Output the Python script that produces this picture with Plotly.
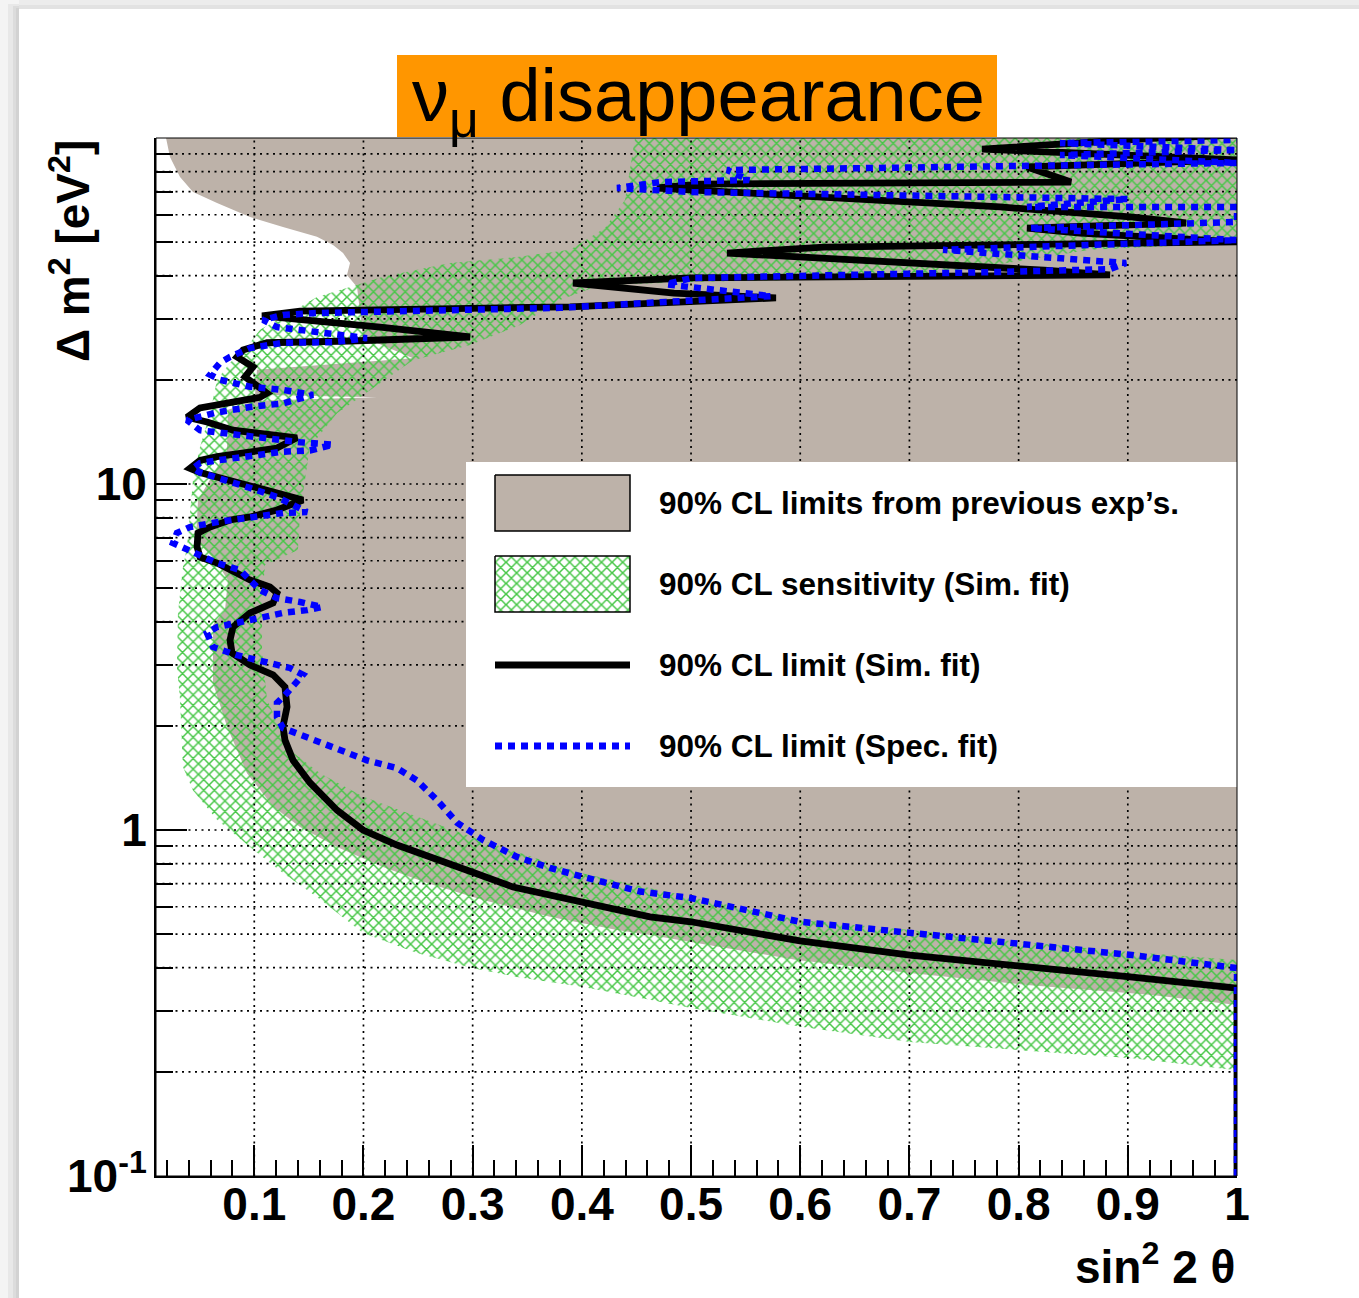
import plotly.graph_objects as go

# ---------------- data ----------------
# 90% CL region excluded by previous experiments (closed contour, sin^2 2theta vs dm^2)
prev_x = [0.0192, 0.0228, 0.0320, 0.0439, 0.0659, 0.0961, 0.1263, 0.1574, 0.1721, 0.1813,
          0.1877, 0.1849, 0.1941, 0.1996, 0.2454, 0.1025, 0.1007, 0.2124, 0.1007, 0.0759,
          0.0750, 0.0595, 0.0485, 0.0466, 0.0640, 0.0759, 0.0732, 0.0622, 0.0622, 0.0750,
          0.0933, 0.1172, 0.1419, 0.1758, 0.2179, 0.2582, 0.3095, 0.3708, 0.4322, 0.4624,
          0.5970, 0.7005, 0.8104, 0.9203, 1.0, 1.0]
prev_y = [100, 88.1, 77.1, 69.8, 64.9, 59.1, 55.3, 51.8, 49.1, 46.5,
          43.5, 40.2, 37.1, 26.6, 23.1, 21.4, 18.1, 17.8, 17.4, 16.4,
          12.5, 10.3, 8.99, 6.89, 6.03, 5.28, 4.32, 3.91, 2.66, 1.99,
          1.46, 1.17, 1.02, 0.893, 0.782, 0.703, 0.628, 0.561, 0.514, 0.497,
          0.421, 0.386, 0.356, 0.334, 0.312, 100]

# 90% CL sensitivity band of the simultaneous fit (closed contour)
sens_x = [1.0, 0.9039, 0.8013, 0.7005, 0.6007, 0.4999, 0.4624, 0.4011, 0.3406, 0.2994,
          0.2490, 0.1996, 0.1574, 0.1263, 0.0961, 0.0659, 0.0439, 0.0347, 0.0320, 0.0292,
          0.0301, 0.0347, 0.0384, 0.0411, 0.0439, 0.0503, 0.0595, 0.0659, 0.0778, 0.0933,
          0.1052, 0.1263, 0.1574, 0.1877, 0.2179, 0.2793, 0.3406, 0.3892, 0.4212, 0.4395,
          0.4487, 1.0, 1.0, 0.8654, 0.7372, 0.5998, 0.5082, 0.4166, 0.3800, 0.3434,
          0.2976, 0.2454, 0.2124, 0.1758, 0.1510, 0.1465, 0.1419, 0.1400, 0.1098, 0.1071,
          0.1071, 0.1117, 0.1327, 0.1602, 0.1996, 0.2994, 0.3992, 0.4999, 0.5998, 0.7005,
          0.8013, 0.9020, 1.0]
sens_y = [0.202, 0.219, 0.231, 0.244, 0.270, 0.306, 0.323, 0.352, 0.376, 0.399,
          0.441, 0.504, 0.640, 0.751, 0.893, 1.07, 1.30, 1.52, 2.38, 2.96,
          4.24, 5.76, 6.58, 8.25, 10.3, 12.8, 16.0, 20.0, 22.4, 24.9,
          27.9, 30.4, 34.7, 37.1, 39.7, 43.5, 45.3, 47.5, 54.9, 66.2,
          100, 100, 49.7, 47.5, 41.0, 38.9, 38.4, 37.6, 34.0, 28.8,
          25.2, 22.8, 19.3, 16.0, 12.8, 10.3, 8.25, 6.45, 5.83, 4.62,
          3.31, 2.38, 1.70, 1.46, 1.25, 0.954, 0.751, 0.640, 0.549, 0.514,
          0.475, 0.444, 0.421]

# 90% CL limit, simultaneous fit: (sin^2 2theta, dm^2)
sim_limit = [
    (1.0, 0.1), (1.0, 0.349), (0.902, 0.376), (0.7994, 0.407), (0.7005, 0.435),
    (0.5998, 0.478), (0.4999, 0.543), (0.4624, 0.561), (0.4011, 0.615), (0.3370, 0.684),
    (0.2994, 0.756), (0.2637, 0.830), (0.2307, 0.905), (0.1996, 1.0), (0.1758, 1.14),
    (0.1510, 1.37), (0.1355, 1.59), (0.1281, 1.82), (0.1263, 1.99), (0.1300, 2.27),
    (0.1281, 2.59), (0.1172, 2.81), (0.0961, 3.00), (0.0796, 3.25), (0.0778, 3.54),
    (0.0805, 3.86), (0.0961, 4.24), (0.1172, 4.53), (0.1208, 4.84), (0.1144, 5.04),
    (0.0961, 5.28), (0.0659, 5.91), (0.0503, 6.15), (0.0476, 6.58), (0.0485, 7.22),
    (0.0595, 7.51), (0.0778, 7.87), (0.0961, 8.03), (0.1208, 8.41), (0.1446, 8.99),
    (0.1208, 9.42), (0.0961, 9.8), (0.0659, 10.5), (0.0503, 10.8), (0.0411, 11.1),
    (0.0503, 11.7), (0.0659, 12.0), (0.0961, 12.4), (0.1208, 12.7), (0.1391, 13.6),
    (0.1117, 13.9), (0.0805, 14.3), (0.0567, 15.1), (0.0384, 15.6), (0.0503, 16.6),
    (0.0805, 17.3), (0.1052, 17.8), (0.1117, 18.3), (0.1025, 19.3), (0.0915, 20.4),
    (0.0988, 21.8), (0.0842, 23.3), (0.0897, 24.4), (0.1117, 25.6), (0.1877, 25.9),
    (0.2976, 26.6), (0.2152, 28.4), (0.1419, 29.8), (0.1071, 30.6), (0.1419, 31.6),
    (0.2335, 32.1), (0.3250, 32.3), (0.3892, 32.5), (0.4844, 33.6), (0.5778, 34.5),
    (0.4844, 35.6), (0.3919, 38.1), (0.5009, 39.4), (0.6621, 39.7), (0.7830, 39.7),
    (0.8837, 40.2), (0.8233, 41.5), (0.7024, 43.5), (0.5815, 45.3), (0.5330, 46.5),
    (0.6218, 48.4), (0.7427, 49.1), (0.8636, 49.7), (1.0, 50.1), (0.8562, 53.1),
    (0.8077, 54.9), (0.9533, 56.8), (0.9048, 59.1), (0.7830, 63.2), (0.6218, 67.5),
    (0.4688, 71.7), (0.5082, 73.6), (0.7830, 74.1), (0.848, 74.6), (0.8077, 82.5),
    (1.0, 86.4), (0.7665, 92.9), (0.9267, 100), (1.0, 102),
]

# 90% CL limit, spectral fit: (sin^2 2theta, dm^2)
spec_limit = [
    (1.0, 0.1), (1.0, 0.399), (0.9039, 0.435), (0.8013, 0.468), (0.7005, 0.504),
    (0.5998, 0.543), (0.4999, 0.636), (0.4533, 0.664), (0.4011, 0.732), (0.3708, 0.777),
    (0.3406, 0.836), (0.3095, 0.936), (0.2857, 1.05), (0.2674, 1.22), (0.2490, 1.39),
    (0.2307, 1.51), (0.2032, 1.59), (0.1694, 1.74), (0.1446, 1.86), (0.1263, 1.97),
    (0.1208, 2.12), (0.1208, 2.33), (0.1300, 2.49), (0.1391, 2.66), (0.1446, 2.81),
    (0.1327, 2.94), (0.1080, 3.06), (0.0842, 3.20), (0.0622, 3.38), (0.0567, 3.71),
    (0.0659, 3.86), (0.0961, 4.05), (0.1263, 4.24), (0.1483, 4.32), (0.1620, 4.41),
    (0.1419, 4.56), (0.1208, 4.68), (0.1052, 4.94), (0.0869, 5.64), (0.0659, 5.91),
    (0.0439, 6.32), (0.0256, 6.75), (0.0292, 7.22), (0.0411, 7.51), (0.0659, 7.76),
    (0.0961, 7.98), (0.1263, 8.25), (0.1483, 8.30), (0.1208, 9.17), (0.0961, 9.74),
    (0.0659, 10.5), (0.0503, 10.8), (0.0439, 11.1), (0.0503, 11.5), (0.0659, 11.7),
    (0.0961, 12.1), (0.1263, 12.4), (0.1510, 12.5), (0.1721, 13.0), (0.1419, 13.2),
    (0.1117, 13.6), (0.0805, 13.9), (0.0503, 14.3), (0.0384, 15.3), (0.0659, 16.1),
    (0.0961, 16.7), (0.1263, 17.1), (0.1538, 18.1), (0.1263, 18.7), (0.0961, 19.1),
    (0.0686, 20.0), (0.0595, 20.7), (0.0686, 22.4), (0.0778, 23.3), (0.0961, 24.7),
    (0.1263, 25.6), (0.1721, 25.7), (0.2032, 26.4), (0.1694, 27.3), (0.1446, 27.9),
    (0.1208, 28.4), (0.1080, 29.8), (0.1263, 30.8), (0.1574, 31.2), (0.2335, 31.6),
    (0.3250, 31.8), (0.3800, 32.3), (0.4771, 33.6), (0.5732, 34.9), (0.4771, 37.8),
    (0.5009, 39.4), (0.7830, 41.0), (0.8837, 41.8), (0.8984, 43.5), (0.7308, 47.5),
    (1.0, 50.7), (0.8104, 54.9), (1.0, 57.2), (1.0, 63.2), (0.8077, 63.2),
    (0.9002, 66.6), (0.5009, 69.8), (0.4322, 71.7), (0.4716, 74.6), (0.5531, 75.6),
    (0.5330, 80.8), (0.6914, 81.9), (1.0, 84.7), (0.8379, 89.3), (1.0, 92.3),
    (0.8379, 96.7), (1.0, 98.7),
]

# axis ticks
x_major = [0.1, 0.2, 0.3, 0.4, 0.5, 0.6, 0.7, 0.8, 0.9, 1.0]
x_labels = ["0.1", "0.2", "0.3", "0.4", "0.5", "0.6", "0.7", "0.8", "0.9", "1"]
x_minor = [round(0.02 * i, 2) for i in range(1, 50) if i % 5]
y_major = [0.1, 1, 10]
y_labels = ["10<sup>-1</sup>", "1", "10"]
y_minor = [m * 10 ** e for e in (-1, 0, 1) for m in range(2, 10)]

legend_labels = [
    "90% CL limits from previous exp\u2019s.",
    "90% CL sensitivity (Sim. fit)",
    "90% CL limit (Sim. fit)",
    "90% CL limit (Spec. fit)",
]

# ---------------- styling ----------------
W, H = 1359, 1298
ML, MR, MT, MB = 156, 122, 138, 122
FONT = "Liberation Sans, Arial, Helvetica, sans-serif"
GREY = "#bdb2a9"
GREEN = "#46c646"
BLUE = "#0000ff"
ORANGE = "#ff9600"
HATCH = dict(shape="x", fgcolor=GREEN, fgopacity=1, bgcolor="rgba(0,0,0,0)",
             size=7.5, solidity=0.36)


def px(xp):
    """page pixel column -> paper fraction"""
    return (xp - ML) / (W - ML - MR)


def py(yp):
    """page pixel row -> paper fraction"""
    return (H - MB - yp) / (H - MT - MB)


fig = go.Figure()

# previous experiments
fig.add_trace(go.Scatter(x=prev_x, y=prev_y, mode="lines", fill="toself",
                         fillcolor=GREY, line=dict(width=0), hoverinfo="skip",
                         showlegend=False))
# sensitivity band (cross hatched)
fig.add_trace(go.Scatter(x=sens_x, y=sens_y, mode="lines", fill="toself",
                         fillcolor="rgba(0,0,0,0)", line=dict(width=0),
                         fillpattern=HATCH, hoverinfo="skip", showlegend=False))

# dotted grid drawn on top of the filled areas
gx, gy = [], []
for v in x_major[:-1]:
    gx += [v, v, None]
    gy += [0.1, 100, None]
for v in sorted(y_minor + y_major[1:]):
    gx += [0.01, 1.0, None]
    gy += [v, v, None]
fig.add_trace(go.Scatter(x=gx, y=gy, mode="lines",
                         line=dict(color="black", width=1.7, dash="2px,4.5px"),
                         hoverinfo="skip", showlegend=False))

# limit curves
fig.add_trace(go.Scatter(x=[p[0] for p in sim_limit], y=[p[1] for p in sim_limit],
                         mode="lines", line=dict(color="black", width=6.8),
                         hoverinfo="skip", showlegend=False))
fig.add_trace(go.Scatter(x=[p[0] for p in spec_limit], y=[p[1] for p in spec_limit],
                         mode="lines", line=dict(color=BLUE, width=6.5, dash="7px,6px"),
                         hoverinfo="skip", showlegend=False))

# ---------------- legend box on an overlay in paper units ----------------
LX0, LX1, LY0, LY1 = 466, 1237, 462, 787
SX0, SX1 = 495, 630


def box(x0, y0, x1, y1):
    return ([px(x0), px(x1), px(x1), px(x0), px(x0)],
            [py(y0), py(y0), py(y1), py(y1), py(y0)])


bx, by = box(LX0, LY0, LX1, LY1)
fig.add_trace(go.Scatter(x=bx, y=by, xaxis="x2", yaxis="y2", mode="lines",
                         fill="toself", fillcolor="white", line=dict(width=0),
                         hoverinfo="skip", showlegend=False))
bx, by = box(SX0, 475, SX1, 531)
fig.add_trace(go.Scatter(x=bx, y=by, xaxis="x2", yaxis="y2", mode="lines",
                         fill="toself", fillcolor=GREY,
                         line=dict(color="black", width=1.5),
                         hoverinfo="skip", showlegend=False))
bx, by = box(SX0, 556, SX1, 612)
fig.add_trace(go.Scatter(x=bx, y=by, xaxis="x2", yaxis="y2", mode="lines",
                         fill="toself", fillcolor="rgba(0,0,0,0)", fillpattern=HATCH,
                         line=dict(color="black", width=1.5),
                         hoverinfo="skip", showlegend=False))
fig.add_trace(go.Scatter(x=[px(SX0), px(SX1)], y=[py(665), py(665)],
                         xaxis="x2", yaxis="y2", mode="lines",
                         line=dict(color="black", width=7),
                         hoverinfo="skip", showlegend=False))
fig.add_trace(go.Scatter(x=[px(SX0), px(SX1)], y=[py(746), py(746)],
                         xaxis="x2", yaxis="y2", mode="lines",
                         line=dict(color=BLUE, width=7, dash="7px,6px"),
                         hoverinfo="skip", showlegend=False))

annotations = []
for label, yc in zip(legend_labels, [503, 584, 665, 746]):
    annotations.append(dict(text=label, x=px(657), y=py(yc), xref="paper", yref="paper",
                            xanchor="left", yanchor="middle", showarrow=False,
                            font=dict(family=FONT, size=31.5, color="black", weight="bold")))

# title
annotations.append(dict(text="\u03bd<sub>\u03bc</sub> disappearance",
                        x=px(698), y=py(101), xref="paper", yref="paper",
                        xanchor="center", yanchor="middle", showarrow=False,
                        font=dict(family=FONT, size=74, color="black")))
# axis titles
annotations.append(dict(text="sin<sup>2</sup> 2 \u03b8", x=px(1237), y=py(1264),
                        xref="paper", yref="paper", xanchor="right", yanchor="middle",
                        showarrow=False,
                        font=dict(family=FONT, size=46, color="black", weight="bold")))
annotations.append(dict(text="\u0394 m<sup>2</sup> [eV<sup>2</sup>]", x=px(70), y=py(138),
                        xref="paper", yref="paper", xanchor="center", yanchor="top",
                        textangle=-90, showarrow=False,
                        font=dict(family=FONT, size=46, color="black", weight="bold")))

shapes = [
    # page shadow along the top and left edges
    dict(type="rect", xref="paper", yref="paper", x0=px(0), x1=px(W), y0=py(9), y1=py(0),
         fillcolor="#ececec", line=dict(width=0), layer="below"),
    dict(type="rect", xref="paper", yref="paper", x0=px(19), x1=px(W), y0=py(9), y1=py(5),
         fillcolor="#e2e2e2", line=dict(width=0), layer="below"),
    dict(type="rect", xref="paper", yref="paper", x0=px(0), x1=px(19), y0=py(H), y1=py(0),
         fillcolor="#f4f4f4", line=dict(width=0), layer="below"),
    dict(type="rect", xref="paper", yref="paper", x0=px(8), x1=px(19), y0=py(H), y1=py(4),
         fillcolor="#e8e8e8", line=dict(width=0), layer="below"),
    dict(type="rect", xref="paper", yref="paper", x0=px(13), x1=px(19), y0=py(H), y1=py(6),
         fillcolor="#dcdcdc", line=dict(width=0), layer="below"),
    dict(type="rect", xref="paper", yref="paper", x0=px(16), x1=px(19), y0=py(H), y1=py(8),
         fillcolor="#d2d2d2", line=dict(width=0), layer="below"),
    # title box
    dict(type="rect", xref="paper", yref="paper", x0=px(397), x1=px(997), y0=py(137), y1=py(55),
         fillcolor=ORANGE, line=dict(width=0), layer="above"),
    # frame
    dict(type="rect", xref="paper", yref="paper", x0=0, x1=1, y0=0, y1=1,
         line=dict(color="black", width=1), layer="above"),
]

tickfont = dict(family=FONT, size=46, color="black", weight="bold")

fig.update_layout(
    width=W, height=H,
    margin=dict(l=ML, r=MR, t=MT, b=MB, pad=0),
    paper_bgcolor="white", plot_bgcolor="white",
    showlegend=False,
    xaxis=dict(range=[0.01, 1.0], showgrid=False, zeroline=False,
               showline=True, linecolor="black", linewidth=2,
               ticks="inside", ticklen=31, tickwidth=1.5, tickcolor="black",
               tickmode="array", tickvals=x_major, ticktext=x_labels,
               tickfont=tickfont, ticklabelstandoff=-13,
               minor=dict(ticks="inside", ticklen=16, tickwidth=1.5, tickcolor="black",
                          tickmode="array", tickvals=x_minor, showgrid=False),
               layer="above traces", fixedrange=True),
    yaxis=dict(type="log", range=[-1, 2], showgrid=False, zeroline=False,
               showline=True, linecolor="black", linewidth=2,
               ticks="inside", ticklen=31, tickwidth=1.5, tickcolor="black",
               tickmode="array", tickvals=y_major, ticktext=y_labels,
               tickfont=tickfont, ticklabelstandoff=-2,
               minor=dict(ticks="inside", ticklen=17, tickwidth=1.5, tickcolor="black",
                          tickmode="array", tickvals=y_minor, showgrid=False),
               layer="above traces", fixedrange=True),
    xaxis2=dict(overlaying="x", range=[0, 1], visible=False, fixedrange=True),
    yaxis2=dict(overlaying="y", range=[0, 1], visible=False, fixedrange=True),
    annotations=annotations,
    shapes=shapes,
)

fig.write_html("out.html")
